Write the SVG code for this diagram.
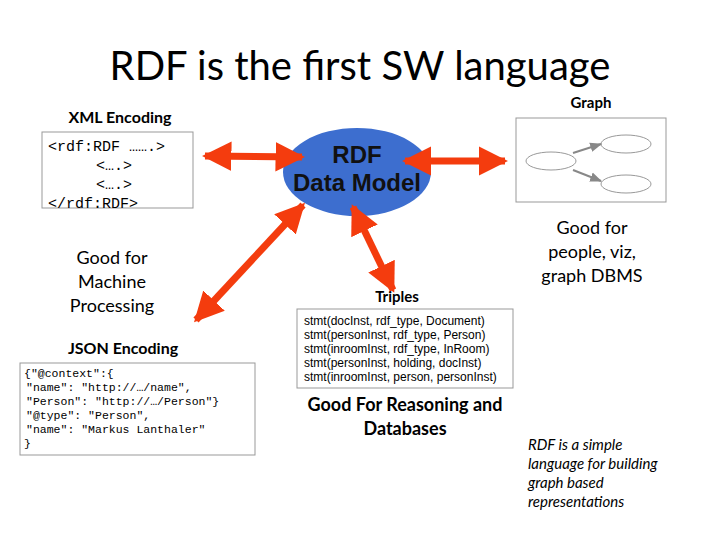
<svg xmlns="http://www.w3.org/2000/svg" width="720" height="540" viewBox="0 0 720 540">
<style>
.t{font-family:Lato,"Open Sans","Liberation Sans",sans-serif;fill:#000}
.b{font-weight:bold}
.m{font-family:"Liberation Mono","Courier New",monospace;fill:#000}
.s{font-family:"Liberation Sans",Arial,sans-serif;fill:#000}
.box{fill:#fff;stroke:#999;stroke-width:1}
.arr{stroke:#f43c0e;stroke-width:7;marker-start:url(#ah);marker-end:url(#ah)}
.ge{fill:none;stroke:#999;stroke-width:1}
</style>
<defs>
<marker id="ah" viewBox="0 0 10 10" refX="9" refY="5" markerWidth="4.2" markerHeight="4.4" orient="auto-start-reverse" markerUnits="strokeWidth">
<path d="M0,0L10,5L0,10z" fill="#f43c0e"/>
</marker>
<marker id="ga" viewBox="0 0 10 10" refX="9" refY="5" markerWidth="6" markerHeight="6" orient="auto">
<path d="M0,1L10,5L0,9z" fill="#888"/>
</marker>
</defs>
<rect width="720" height="540" fill="#fff"/>
<text class="t" x="360" y="80" font-size="40" text-anchor="middle">RDF is the first SW language</text>

<g id="xml">
<text class="t b" x="120" y="123" font-size="16" text-anchor="middle">XML Encoding</text>
<rect class="box" x="42" y="132" width="151" height="76"/>
<text class="m" font-size="15"><tspan x="48" y="151">&lt;rdf:RDF …….&gt;</tspan><tspan x="96" y="170">&lt;….&gt;</tspan><tspan x="96" y="189">&lt;….&gt;</tspan><tspan x="48" y="208">&lt;/rdf:RDF&gt;</tspan></text>
</g>

<g id="machine">
<text class="t" font-size="18" text-anchor="middle"><tspan x="112" y="264">Good for</tspan><tspan x="112" y="288">Machine</tspan><tspan x="112" y="312">Processing</tspan></text>
</g>

<g id="json">
<text class="t b" x="123" y="354" font-size="16" text-anchor="middle">JSON Encoding</text>
<rect class="box" x="20" y="363" width="235" height="92"/>
<text class="m" font-size="11.5"><tspan x="24" y="377">{"@context":{</tspan><tspan x="26" y="391">"name": "http://…/name",</tspan><tspan x="26" y="405">"Person": "http://…/Person"}</tspan><tspan x="26" y="419">"@type": "Person",</tspan><tspan x="26" y="433">"name": "Markus Lanthaler"</tspan><tspan x="24" y="447">}</tspan></text>
</g>

<g id="model">
<ellipse cx="357" cy="172" rx="74" ry="44" fill="#3d6ecf"/>
<text class="s b" font-size="24" text-anchor="middle" style="fill:#111"><tspan x="357" y="163">RDF</tspan><tspan x="357" y="191">Data Model</tspan></text>
</g>

<g id="graph">
<text class="t b" x="591" y="108" font-size="15" text-anchor="middle">Graph</text>
<rect class="box" x="516" y="118" width="150" height="84"/>
<ellipse class="ge" cx="551" cy="161" rx="25" ry="9"/>
<ellipse class="ge" cx="626" cy="144" rx="25" ry="9"/>
<ellipse class="ge" cx="626" cy="184" rx="25" ry="9"/>
<line x1="573" y1="153" x2="601" y2="144" stroke="#888" stroke-width="2" marker-end="url(#ga)"/>
<line x1="573" y1="170" x2="601" y2="181" stroke="#888" stroke-width="2" marker-end="url(#ga)"/>
</g>

<g id="people">
<text class="t" font-size="18" text-anchor="middle"><tspan x="592" y="234">Good for</tspan><tspan x="592" y="258">people, viz,</tspan><tspan x="592" y="282">graph DBMS</tspan></text>
</g>

<g id="triples">
<text class="t b" x="397" y="302" font-size="15" text-anchor="middle">Triples</text>
<rect class="box" x="297" y="309" width="216" height="79"/>
<text class="s" font-size="12"><tspan x="304" y="325">stmt(docInst, rdf_type, Document)</tspan><tspan x="304" y="339">stmt(personInst, rdf_type, Person)</tspan><tspan x="304" y="353">stmt(inroomInst, rdf_type, InRoom)</tspan><tspan x="304" y="367">stmt(personInst, holding, docInst)</tspan><tspan x="304" y="381">stmt(inroomInst, person, personInst)</tspan></text>
</g>

<g id="reasoning">
<text class="t b" font-size="18" text-anchor="middle"><tspan x="405" y="411">Good For Reasoning and</tspan><tspan x="405" y="435">Databases</tspan></text>
</g>

<g id="note">
<text class="t" font-size="15" style="font-style:italic"><tspan x="528" y="450">RDF is a simple</tspan><tspan x="528" y="469">language for building</tspan><tspan x="528" y="488">graph based</tspan><tspan x="528" y="507">representations</tspan></text>
</g>

<g id="connectors">
<line class="arr" x1="205" y1="156" x2="302" y2="157"/>
<line class="arr" x1="405" y1="161" x2="505" y2="161"/>
<line class="arr" x1="303" y1="205" x2="196" y2="320"/>
<line class="arr" x1="353" y1="207" x2="393" y2="290"/>
</g>
</svg>
